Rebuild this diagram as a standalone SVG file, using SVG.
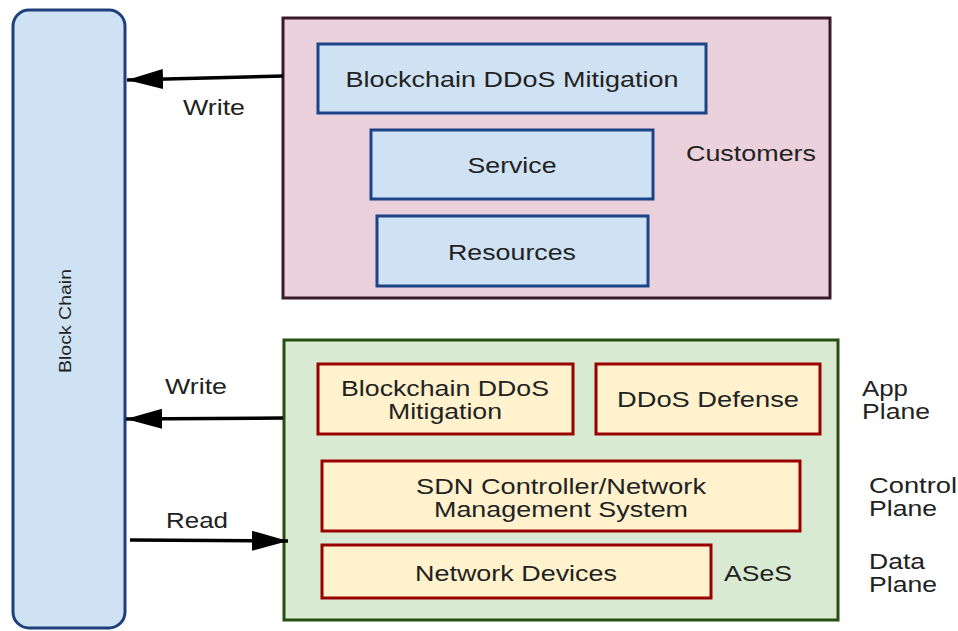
<svg xmlns="http://www.w3.org/2000/svg" width="958" height="631" viewBox="0 0 958 631">
<defs>
<marker id="ah" markerUnits="userSpaceOnUse" markerWidth="36" markerHeight="20" refX="36" refY="10" orient="auto">
<path d="M0,0 L36,10 L0,20 z" fill="#000"/>
</marker>
<style>
text{font-family:"Liberation Sans",Arial,sans-serif;font-size:21.5px;fill:#222;}
.c{text-anchor:middle;}
.blue{fill:#cfe2f3;stroke:#1c4587;stroke-width:3;}
.org{fill:#fff2cc;stroke:#990000;stroke-width:3;}
.conn{stroke:#000;stroke-width:3.5;fill:none;marker-end:url(#ah);}
</style>
</defs>
<rect width="958" height="631" fill="#fff"/>

<g id="blockchain">
<rect x="13" y="10" width="112" height="618" rx="16" ry="16" fill="#cfe2f3" stroke="#1f3f7a" stroke-width="3"/>
<text transform="translate(71,321) rotate(-90)" class="c" textLength="104" lengthAdjust="spacingAndGlyphs" style="font-size:17px">Block Chain</text>
</g>

<g id="customers">
<rect x="283" y="18" width="547" height="280" fill="#ead1dc" stroke="#3a1a28" stroke-width="3"/>
<text x="686" y="161" textLength="130" lengthAdjust="spacingAndGlyphs">Customers</text>
</g>
<g id="cust-mitigation">
<rect class="blue" x="318" y="44" width="388" height="69"/>
<text class="c" x="512" y="87" textLength="333" lengthAdjust="spacingAndGlyphs">Blockchain DDoS Mitigation</text>
</g>
<g id="service">
<rect class="blue" x="371" y="130" width="282" height="69"/>
<text class="c" x="512" y="173" textLength="89" lengthAdjust="spacingAndGlyphs">Service</text>
</g>
<g id="resources">
<rect class="blue" x="377" y="216" width="271" height="70"/>
<text class="c" x="512" y="260" textLength="128" lengthAdjust="spacingAndGlyphs">Resources</text>
</g>

<g id="ases">
<rect x="284" y="340" width="554" height="280" fill="#d9ead3" stroke="#274e13" stroke-width="3"/>
<text class="c" x="758" y="581" textLength="68" lengthAdjust="spacingAndGlyphs">ASeS</text>
</g>
<g id="app-mitigation">
<rect class="org" x="318" y="364" width="255" height="70"/>
<text class="c" x="445" y="396" textLength="208" lengthAdjust="spacingAndGlyphs">Blockchain DDoS</text>
<text class="c" x="445" y="419" textLength="114" lengthAdjust="spacingAndGlyphs">Mitigation</text>
</g>
<g id="ddos-defense">
<rect class="org" x="596" y="364" width="224" height="70"/>
<text class="c" x="708" y="407" textLength="182" lengthAdjust="spacingAndGlyphs">DDoS Defense</text>
</g>
<g id="sdn">
<rect class="org" x="322" y="461" width="478" height="70"/>
<text class="c" x="561" y="494" textLength="290" lengthAdjust="spacingAndGlyphs">SDN Controller/Network</text>
<text class="c" x="561" y="517" textLength="254" lengthAdjust="spacingAndGlyphs">Management System</text>
</g>
<g id="network-devices">
<rect class="org" x="322" y="545" width="389" height="53"/>
<text class="c" x="516" y="581" textLength="202" lengthAdjust="spacingAndGlyphs">Network Devices</text>
</g>

<g id="plane-labels">
<text x="862" y="396" textLength="46" lengthAdjust="spacingAndGlyphs">App</text>
<text x="862" y="419" textLength="68" lengthAdjust="spacingAndGlyphs">Plane</text>
<text x="869" y="493" textLength="88" lengthAdjust="spacingAndGlyphs">Control</text>
<text x="869" y="516" textLength="68" lengthAdjust="spacingAndGlyphs">Plane</text>
<text x="869" y="569" textLength="56" lengthAdjust="spacingAndGlyphs">Data</text>
<text x="869" y="592" textLength="68" lengthAdjust="spacingAndGlyphs">Plane</text>
</g>

<g id="connectors">
<line class="conn" x1="283" y1="76" x2="127" y2="80"/>
<text class="c" x="214" y="115" textLength="62" lengthAdjust="spacingAndGlyphs">Write</text>
<line class="conn" x1="283" y1="418" x2="126" y2="419"/>
<text class="c" x="196" y="394" textLength="62" lengthAdjust="spacingAndGlyphs">Write</text>
<line class="conn" x1="130" y1="540" x2="288" y2="541"/>
<text class="c" x="197" y="528" textLength="62" lengthAdjust="spacingAndGlyphs">Read</text>
</g>
</svg>
